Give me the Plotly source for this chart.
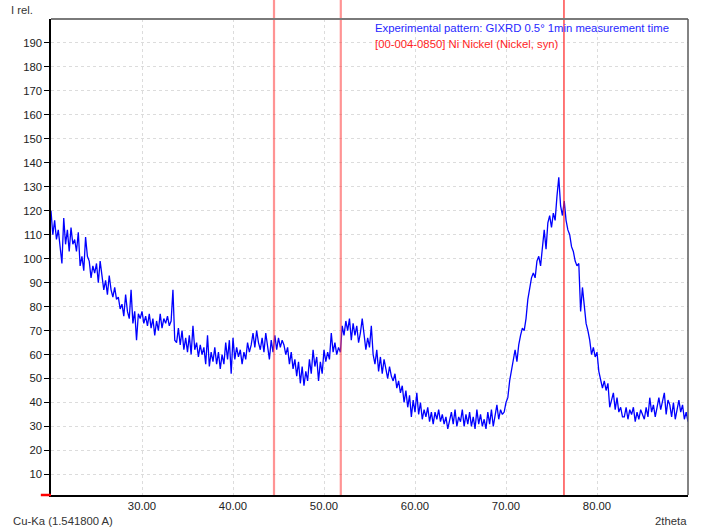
import plotly.graph_objects as go

# ---- data ----
two_theta_start = 20.0
two_theta_step = 0.2
intensity = [
    120, 110, 116, 108, 112,
    104, 98, 117, 106, 112,
    103, 113, 106, 108, 103,
    111, 97, 101, 95, 109,
    101, 99, 92, 97, 94,
    98, 90, 99, 93, 87,
    91, 85, 93, 87, 84,
    88, 83, 84, 79, 81,
    76, 85, 78, 75, 87,
    73, 78, 66, 77, 75,
    78, 73, 76, 72, 77,
    71, 75, 68, 74, 70,
    77, 71, 75, 73, 76,
    72, 74, 87, 66, 65,
    71, 64, 70, 62, 67,
    61, 68, 60, 72, 62,
    65, 59, 64, 60, 63,
    56, 68, 55, 61, 57,
    63, 56, 61, 54, 60,
    56, 65, 58, 66, 52,
    67, 58, 63, 59, 62,
    56, 61, 58, 65, 61,
    64, 69, 63, 70, 65,
    62, 67, 61, 69, 64,
    58, 66, 61, 68, 62,
    67, 63, 66, 64, 60,
    63, 56, 61, 54, 58,
    51, 57, 48, 55, 47,
    53, 49, 58, 52, 62,
    55, 59, 49, 57, 52,
    62, 57, 61, 58, 69,
    61, 65, 60, 63, 61,
    72, 68, 74, 70, 75,
    66, 73, 68, 72, 65,
    69, 75, 67, 62, 67,
    63, 72, 60, 56, 62,
    53, 59, 52, 58, 54,
    50, 55, 51, 49, 52,
    46, 49, 44, 47, 40,
    45, 38, 43, 34, 41,
    36, 44, 35, 40, 33,
    37, 34, 38, 32, 36,
    31, 36, 33, 37, 32,
    35, 31, 34, 29, 33,
    36, 31, 37, 30, 34,
    32, 37, 30, 35, 31,
    36, 30, 34, 29, 37,
    31, 35, 30, 33, 29,
    36, 31, 37, 30, 34,
    39, 33, 37, 35, 36,
    40, 42, 49, 53, 58,
    62, 57, 64, 68, 71,
    70, 75, 83, 88, 92,
    94, 92, 99, 101, 97,
    106, 112, 104, 115, 118,
    113, 119, 116, 126, 134,
    122, 118, 124, 116, 112,
    110, 105, 103, 99, 97,
    98, 78, 88, 81, 73,
    70, 66, 60, 63, 59,
    61, 53, 50, 46, 49,
    45, 48, 38, 41, 44,
    37, 42, 36, 38, 34,
    34, 38, 33, 37, 35,
    38, 32, 36, 33, 37,
    35, 33, 38, 34, 42,
    36, 39, 34, 38, 42,
    37, 40, 44, 35, 41,
    39, 34, 40, 33, 37,
    41, 36, 39, 33, 36,
    32,
]
two_theta = [round(two_theta_start + i * two_theta_step, 2) for i in range(len(intensity))]

ni_peaks = [44.507, 51.846, 76.370]

x_ticks = [30, 40, 50, 60, 70, 80, 90]
y_ticks = [10, 20, 30, 40, 50, 60, 70, 80, 90, 100, 110, 120, 130, 140, 150, 160, 170, 180, 190]

series_label = "Experimental pattern: GIXRD 0.5\u00b0 1min measurement time"
ref_label = "[00-004-0850] Ni Nickel (Nickel, syn)"

# ---- styles ----
peak_styles = [
    dict(color="rgba(255,60,60,0.55)", width=2.2),
    dict(color="rgba(255,60,60,0.55)", width=2.2),
    dict(color="rgb(255,30,30)", width=1.2),
]
FONT = "Liberation Sans, Arial, sans-serif"
FS = 11.3

fig = go.Figure()
fig.add_trace(go.Scatter(
    x=two_theta, y=intensity, mode="lines",
    line=dict(color="rgb(0,0,255)", width=1.3),
    showlegend=False, hoverinfo="x+y",
))

shapes = []
for pk, st in zip(ni_peaks, peak_styles):
    shapes.append(dict(type="line", xref="x", yref="paper", x0=pk, x1=pk,
                       y0=0, y1=1.04, line=st, layer="above"))
# top and right frame (gray)
shapes.append(dict(type="line", xref="paper", yref="paper", x0=0, x1=1, y0=1, y1=1,
                   line=dict(color="#7a7a7a", width=2), layer="above"))
shapes.append(dict(type="line", xref="paper", yref="paper", x0=1, x1=1, y0=0, y1=1,
                   line=dict(color="#5a5a5a", width=1.5), layer="above"))
# small red mark at the y-axis origin
shapes.append(dict(type="line", xref="paper", yref="paper", x0=-0.016, x1=0, y0=0, y1=0,
                   line=dict(color="red", width=2.5), layer="above"))

annotations = [
    dict(text="I rel.", xref="paper", yref="paper", x=0, y=1, xanchor="left",
         yanchor="middle", xshift=-42, yshift=9, showarrow=False,
         font=dict(family=FONT, size=FS, color="#333333")),
    dict(text="Cu-Ka (1.541800 A)", xref="paper", yref="paper", x=0, y=0,
         xanchor="left", yanchor="middle", xshift=-40, yshift=-26, showarrow=False,
         font=dict(family=FONT, size=FS, color="#333333")),
    dict(text="2theta", xref="paper", yref="paper", x=1, y=0,
         xanchor="right", yanchor="middle", xshift=1, yshift=-26, showarrow=False,
         font=dict(family=FONT, size=FS, color="#333333")),
    dict(text=series_label, xref="paper", yref="paper", x=0, y=1,
         xanchor="left", yanchor="middle", xshift=322, yshift=-9, showarrow=False,
         font=dict(family=FONT, size=FS, color="rgb(40,40,255)")),
    dict(text=ref_label, xref="paper", yref="paper", x=0, y=1,
         xanchor="left", yanchor="middle", xshift=322, yshift=-25, showarrow=False,
         font=dict(family=FONT, size=FS, color="rgb(255,30,30)")),
]

fig.update_layout(
    width=702, height=528,
    margin=dict(l=51, r=14, t=19, b=33),
    paper_bgcolor="white", plot_bgcolor="white",
    shapes=shapes, annotations=annotations,
    font=dict(family=FONT, size=FS, color="#222222"),
    showlegend=False,
)
fig.update_xaxes(
    range=[20, 90], tickvals=x_ticks, ticktext=[f"{v:.2f}" for v in x_ticks],
    showgrid=True, gridcolor="#dcdcdc", griddash="dot", gridwidth=1,
    showline=True, linecolor="black", linewidth=1.5, ticks="", zeroline=False,
    tickfont=dict(family=FONT, size=FS, color="#222222"),
)
fig.update_yaxes(
    range=[1.4, 200], tickvals=y_ticks,
    showgrid=True, gridcolor="#dcdcdc", griddash="dot", gridwidth=1,
    showline=True, linecolor="black", linewidth=1.5, ticks="outside", ticklen=5,
    tickcolor="black", zeroline=False,
    tickfont=dict(family=FONT, size=FS, color="#222222"),
)

fig.write_html(
    "out.html",
    config={"displayModeBar": False},
    post_script="document.body.style.margin='0';document.body.style.overflow='hidden';",
)
